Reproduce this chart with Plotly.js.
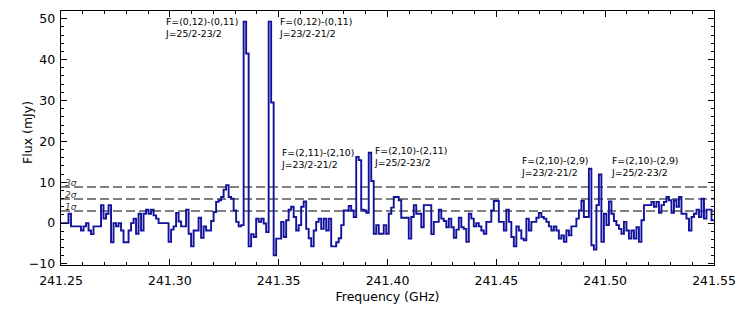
<!DOCTYPE html>
<html>
<head>
<meta charset="utf-8">
<script src="https://cdn.plot.ly/plotly-3.0.1.min.js"></script>
<style>html,body{margin:0;padding:0;background:#fff;}#chart{width:748px;height:313px;}</style>
</head>
<body>
<div id="chart"></div>
<script>
// Spectrum: channel grid (GHz) and flux per channel (mJy)
const chanStart = 241.25;
const chanWidth = 0.0011494;
const flux = [
  0, 0, 0, 2.3, -0.8, -0.8, -0.8, -0.8, -1.8, -0.8,
  0, -1.8, -2.7, -0.8, -0.8, -0.8, 4.4, 1.1, 2.3, 4.4,
  -4.7, 0, -0.8, 0, -1.8, -4.7, -4.7, -1.8, 0, 1.1,
  -2.6, 2.3, -1.8, 2.3, 3.3, 2.3, 3.3, 1.9, 1.1, 0,
  0, 0, 0, -4.6, -1.6, -0.8, 2.5, 0.4, -0.8, -0.8,
  3.3, -2.6, -5.7, -1.8, -1.8, 1.3, -3.6, -0.8, -1.8, -1.8,
  0.5, 2.7, 5.2, 5.6, 6.4, 8.2, 9.3, 6.4, 6.0, 3.1,
  0.3, -0.8, -0.5, 49.3, 41.5, -5.7, -2.7, -3.4, 1.1, 0.3,
  1.1, -0.1, -2.2, 49.3, 29.5, -7.9, -3.8, -3.8, 0.3, -3.4,
  0.7, 3.3, 4.0, 1.5, -1.8, -0.5, 4.0, 5.3, -1.4, -3.7,
  -5.7, -1.8, 0.3, 1.1, -1.4, 1.1, -1.8, 1.1, -5.7, -5.7,
  -4.7, -3.7, -0.5, 3.1, 3.1, 4.2, 3.1, 1.5, 16.2, 15.4,
  3.3, 3.1, 2.5, 17.2, 10.3, -2.6, -0.5, -2.6, -2.6, -0.5,
  -2.6, 2.3, 3.8, 6.4, 6.4, 5.6, 1.3, 1.3, 1.3, -3.8,
  1.5, 4.4, 2.3, 2.3, -1.0, 4.4, 4.4, 4.4, -2.7, 0.3,
  0.3, 3.3, 1.1, 0.5, -1.0, 1.1, -1.0, -3.6, -1.6, 1.3,
  -1.0, -1.4, -4.6, 2.3, 1.1, -0.8, 0, -0.8, -1.8, -2.6,
  0.3, 0.3, 3.1, 5.4, 5.4, 0.3, 0.3, -1.8, 3.3, 0.3,
  -3.4, -5.7, -0.8, -1.8, -3.8, -4.2, 1.1, -1.8, 0.3, 0.3,
  1.3, 2.5, 1.5, 1.1, 0.3, -0.8, -1.8, -0.8, -1.8, -3.8,
  -3.0, -4.6, -1.8, -3.0, -0.8, -0.8, 1.1, 3.1, 5.4, 1.5,
  1.5, 13.3, -5.4, -6.5, 4.4, 11.9, -4.6, 2.3, -0.5, 5.3,
  2.3, 0.5, -0.5, -1.4, -2.6, 0.3, -1.8, -3.8, -1.8, -3.8,
  -1.0, -4.6, 0.7, 4.4, 4.4, 4.4, 5.2, 4.0, 5.2, 2.5,
  4.4, 5.2, 6.4, 5.6, 2.5, 5.6, 4.0, 6.4, 2.3, 2.3,
  1.1, -1.8, 1.5, 2.3, 3.3, 1.5, 6.0, 1.1, 3.3, 3.3,
  0.7, 0.7
];
// rms noise level (mJy) and sigma labels
const sigma = 2.95;
const sigmaLevels = [1, 2, 3];
const sigmaLabels = ['1σ', '2σ', '3σ'];
// line identifications
const lineLabels = [
  'F=(0,12)-(0,11)<br>J=25/2-23/2',
  'F=(0,12)-(0,11)<br>J=23/2-21/2',
  'F=(2,11)-(2,10)<br>J=23/2-21/2',
  'F=(2,10)-(2,11)<br>J=25/2-23/2',
  'F=(2,10)-(2,9)<br>J=23/2-21/2',
  'F=(2,10)-(2,9)<br>J=25/2-23/2'
];
const lineLabelFreq = [241.2970, 241.3493, 241.3503, 241.3931, 241.4606, 241.5018];
const lineLabelFlux = [51.2, 51.2, 19.0, 19.6, 17.1, 17.1];

const xRange = [241.25, 241.55];

const fx = [], fy = [];
for (let i = 0; i < flux.length; i++) {
  fx.push(chanStart + i * chanWidth);
  fy.push(flux[i]);
}
fx.push(chanStart + flux.length * chanWidth);
fy.push(flux[flux.length - 1]);

const traces = [];
sigmaLevels.forEach(k => {
  traces.push({
    x: xRange, y: [k * sigma, k * sigma], mode: 'lines', hoverinfo: 'skip',
    line: {color: '#808080', width: 2, dash: '9px,4px'}, showlegend: false
  });
});
traces.push({
  x: fx, y: fy, mode: 'lines', line: {shape: 'hv', color: '#12129c', width: 1.9},
  showlegend: false
});

const annotations = [];
lineLabels.forEach((t, i) => {
  annotations.push({
    x: lineLabelFreq[i], y: lineLabelFlux[i], xref: 'x', yref: 'y', text: t,
    showarrow: false, xanchor: 'left', yanchor: 'top', align: 'left',
    font: {family: 'DejaVu Sans', size: 9.3, color: '#000'}
  });
});
sigmaLevels.forEach((k, i) => {
  annotations.push({
    x: 241.2508, y: k * sigma, xref: 'x', yref: 'y', text: '<i>' + sigmaLabels[i] + '</i>',
    showarrow: false, xanchor: 'left', yanchor: 'bottom',
    font: {family: 'DejaVu Sans', size: 9, color: '#333'}, yshift: -3
  });
});
// y-axis title placed as an annotation to match the reference spacing
annotations.push({
  x: 0, y: 0.52, xref: 'paper', yref: 'paper', text: 'Flux (mJy)', textangle: -90,
  showarrow: false, xanchor: 'center', yanchor: 'middle', xshift: -33,
  font: {family: 'DejaVu Sans', size: 12.5, color: '#000'}
});

const layout = {
  width: 748, height: 313,
  margin: {l: 61, r: 34, t: 11, b: 48},
  paper_bgcolor: '#fff', plot_bgcolor: '#fff',
  font: {family: 'DejaVu Sans', size: 12, color: '#000'},
  xaxis: {
    range: xRange, dtick: 0.05, tick0: 241.25, tickformat: '.2f',
    ticks: 'inside', ticklen: 6, tickwidth: 1, tickcolor: '#000',
    minor: {dtick: 0.01, ticks: 'inside', ticklen: 3, tickcolor: '#000', showgrid: false},
    showline: true, linecolor: '#000', linewidth: 1.3, mirror: 'allticks',
    showgrid: false, zeroline: false, ticklabelstandoff: 4,
    tickfont: {size: 12.5},
    title: {text: 'Frequency (GHz)', font: {size: 12.5}, standoff: 5}
  },
  yaxis: {
    range: [-10.25, 51.9], dtick: 10, tick0: 0,
    ticks: 'inside', ticklen: 6, tickwidth: 1, tickcolor: '#000',
    minor: {dtick: 2, ticks: 'inside', ticklen: 3, tickcolor: '#000', showgrid: false},
    showline: true, linecolor: '#000', linewidth: 1.3, mirror: 'allticks',
    showgrid: false, zeroline: false, ticklabelstandoff: 2,
    tickfont: {size: 12.5}
  },
  annotations: annotations
};

Plotly.newPlot('chart', traces, layout, {displayModeBar: false, staticPlot: true});
</script>
</body>
</html>
